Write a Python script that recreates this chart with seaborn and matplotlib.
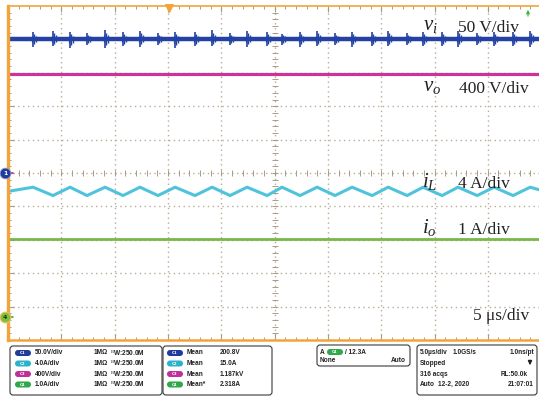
import numpy as np
import matplotlib
matplotlib.use("Agg")
import matplotlib.pyplot as plt
from matplotlib.patches import FancyBboxPatch
import seaborn as sns

# ---------------- data ----------------
# time axis: 5 us/div, 10 div screen (right part cut off)
t_end = 49.8  # us visible

# v_i (ch1, 50 V/div, ground at center)
vi_mean = 200.8
vi_t = [0.1, 49.8]
spike_t = [2.35, 4.22, 5.82, 7.41, 9.10, 10.79, 12.38, 14.07, 15.67, 17.54,
           19.14, 20.83, 22.42, 24.30, 25.70, 27.39, 28.99, 30.67, 32.27, 34.15,
           35.65, 37.43, 38.93, 40.71, 42.21, 44.00, 45.59, 47.37, 48.97]
spike_up = [10, 12, 11, 9, 13, 10, 12, 9, 11, 10, 13, 9, 12, 10, 8,
            11, 12, 9, 11, 10, 12, 9, 11, 10, 12, 9, 10, 11, 12]
spike_dn = [12, 10, 14, 9, 13, 10, 12, 9, 14, 10, 11, 9, 12, 10, 9,
            12, 11, 9, 12, 10, 11, 9, 10, 10, 12, 9, 10, 11, 12]

# v_o (ch3, 400 V/div, ground at center)
vo_mean = 1187.0
vo_t = [0.1, 49.8]

# i_L (ch2, 4 A/div, ground -4.3 div) triangle vertices
iL_t = [0.0, 2.35, 4.22, 5.82, 7.41, 9.10, 10.79, 12.38, 14.07, 15.67, 17.54,
        19.14, 20.83, 22.42, 24.30, 25.70, 27.39, 28.99, 30.67, 32.27, 34.15,
        35.65, 37.43, 38.93, 40.71, 42.21, 44.00, 45.59, 47.37, 48.97, 49.8]
iL_v = [15.0, 15.5, 14.5, 15.5, 14.5, 15.5, 14.5, 15.5, 14.5, 15.5, 14.5,
        15.5, 14.5, 15.5, 14.5, 15.5, 14.5, 15.5, 14.5, 15.5, 14.5,
        15.5, 14.5, 15.5, 14.5, 15.5, 14.5, 15.5, 14.5, 15.5, 15.2]

# i_o (ch4, 1 A/div, ground -4.3 div)
io_mean = 2.318
io_t = [0.1, 49.8]

scales = {"vi": 50.0, "vo": 400.0, "iL": 4.0, "io": 1.0}
offsets = {"vi": 0.0, "vo": 0.0, "iL": -4.3, "io": -4.3}

ch_rows = ["50.0V/div", "4.0A/div", "400V/div", "1.0A/div"]
meas_vals = ["200.8V", "15.0A", "1.187kV", "2.318A"]
meas_names = ["Mean", "Mean", "Mean", "Mean*"]
ch_names = ["C1", "C2", "C3", "C4"]

# ---------------- style ----------------
sns.set_style("white")
plt.rcParams["font.family"] = ["Liberation Serif", "DejaVu Serif"]
plt.rcParams["mathtext.fontset"] = "custom"
plt.rcParams["mathtext.rm"] = "Liberation Serif"
plt.rcParams["mathtext.it"] = "Liberation Serif:italic"

c_blue = "#2342a3"
c_cyan = "#4fc3dc"
c_mag = "#cc3399"
c_green = "#78b84a"
c_orange = "#f2a43a"
c_grid = "#b9ad98"
c_tick = "#a89c88"
ch_colors = ["#1f3b9c", "#2ab3c8", "#c0309a", "#2fa84a"]

W, H = 539, 397
fig = plt.figure(figsize=(W / 100, H / 100), dpi=100)
fig.patch.set_facecolor("white")

x0, x1, y0, y1 = 8, 539, 6, 340
ax = fig.add_axes([x0 / W, (H - y1) / H, (x1 - x0) / W, (y1 - y0) / H])
ax.set_xlim(0, t_end)
ax.set_ylim(-5, 5)

def div(v, key):
    return np.asarray(v, dtype=float) / scales[key] + offsets[key]

# graticule
ax.set_xticks(np.arange(0, 50, 5))
ax.set_yticks(np.arange(-4, 5, 1))
ax.set_xticks(np.arange(0, 50, 1), minor=True)
ax.set_yticks(np.arange(-5, 5, 0.2), minor=True)
ax.grid(True, which="major", axis="both", color=c_grid, linestyle=(0, (1, 2.5)), linewidth=1.0)
ax.tick_params(which="both", direction="in", top=True, bottom=True, left=True,
               right=False, labelbottom=False, labelleft=False, color=c_tick)
ax.tick_params(which="major", length=4, width=0.8)
ax.tick_params(which="minor", length=2.5, width=0.7)
mt = np.arange(0, 50, 1)
ax.plot(mt, np.zeros_like(mt), ls="none", marker="|", ms=4, mew=0.7, color=c_tick)
mv = np.arange(-5, 5, 0.2)
ax.plot(np.full_like(mv, 25.0), mv, ls="none", marker="_", ms=4, mew=0.7, color=c_tick)

ax.spines["right"].set_visible(False)
ax.spines["left"].set_color(c_orange)
ax.spines["left"].set_linewidth(2.4)
ax.spines["top"].set_color(c_orange)
ax.spines["top"].set_linewidth(1.2)
ax.spines["bottom"].set_color(c_orange)
ax.spines["bottom"].set_linewidth(1.8)

# traces
sns.lineplot(x=vo_t, y=div([vo_mean, vo_mean], "vo"), ax=ax, color=c_mag, lw=2.3)
sns.lineplot(x=io_t, y=div([io_mean, io_mean], "io"), ax=ax, color=c_green, lw=2.0)
sns.lineplot(x=iL_t, y=div(iL_v, "iL"), ax=ax, color=c_cyan, lw=2.2)
sns.lineplot(x=vi_t, y=div([vi_mean, vi_mean], "vi"), ax=ax, color=c_blue, lw=3.2)
st = np.array(spike_t)
su = np.array(spike_up, dtype=float)
sd = np.array(spike_dn, dtype=float)
# each switching burst: a main spike plus a decaying tail
ax.vlines(st, div(vi_mean - sd, "vi"), div(vi_mean + su, "vi"), color=c_blue, lw=1.2)
ax.vlines(st + 0.12, div(vi_mean - 0.7 * sd, "vi"), div(vi_mean + 0.7 * su, "vi"),
          color=c_blue, lw=1.0)
ax.vlines(st + 0.25, div(vi_mean - 0.45 * sd, "vi"), div(vi_mean + 0.45 * su, "vi"),
          color=c_blue, lw=1.0)
ax.vlines(st - 0.1, div(vi_mean - 0.4 * sd, "vi"), div(vi_mean + 0.4 * su, "vi"),
          color=c_blue, lw=0.9)

# ---------------- overlay in pixel coords ----------------
ov = fig.add_axes([0, 0, 1, 1], zorder=5)
ov.set_xlim(0, W)
ov.set_ylim(H, 0)
ov.axis("off")
ov.patch.set_alpha(0)

lab_kw = dict(ha="left", va="baseline", color="#222222")
ov.text(423, 30, r"$v_i$", fontsize=15, **lab_kw)
ov.text(458, 32, "50 V/div", fontsize=12.5, **lab_kw)
ov.text(423, 91, r"$v_o$", fontsize=15, **lab_kw)
ov.text(459, 93, "400 V/div", fontsize=12.5, **lab_kw)
ov.text(422, 187, r"$i_L$", fontsize=15, **lab_kw)
ov.text(458, 188, "4 A/div", fontsize=12.5, **lab_kw)
ov.text(422, 233, r"$i_o$", fontsize=15, **lab_kw)
ov.text(458, 234, "1 A/div", fontsize=12.5, **lab_kw)
ov.text(473, 320, "5 μs/div", fontsize=12.5, **lab_kw)

# screen markers
ov.scatter([5], [173], s=60, color=ch_colors[0], edgecolor="#8aa0d0", lw=0.6, zorder=6)
ov.text(5, 173.5, "1", fontsize=4.5, color="white", ha="center", va="center",
        family="DejaVu Sans", weight="bold", zorder=7)
ov.annotate("", xy=(16, 173), xytext=(10, 173),
            arrowprops=dict(arrowstyle="-|>", color=c_mag, lw=0.8, mutation_scale=4))
ov.scatter([5], [317], s=60, color="#7fbf3f", edgecolor="#f0c060", lw=0.8, zorder=6)
ov.text(5, 317.5, "4", fontsize=4.5, color="#1a3a10", ha="center", va="center",
        family="DejaVu Sans", weight="bold", zorder=7)
ov.annotate("", xy=(16, 317), xytext=(10, 317),
            arrowprops=dict(arrowstyle="-|>", color="#4aa83a", lw=0.8, mutation_scale=4))
ov.scatter([169], [8], marker="v", s=30, color=c_orange, zorder=6)
ov.annotate("", xy=(528, 7), xytext=(528, 19),
            arrowprops=dict(arrowstyle="-|>", color="#3cb83c", lw=0.8, mutation_scale=5))

# ---------------- bottom status panel ----------------
def box(x, y, w, h):
    ov.add_patch(FancyBboxPatch((x, y), w, h, boxstyle="round,pad=0,rounding_size=3",
                                facecolor="white", edgecolor="#3a3a3a", lw=0.8))

def badge(x, y, col, name):
    ov.add_patch(FancyBboxPatch((x, y - 3), 16, 6, boxstyle="round,pad=0,rounding_size=3",
                                facecolor=col, edgecolor="none"))
    ov.text(x + 8, y + 0.3, name, fontsize=2.8, color="white", ha="center", va="center",
            family="DejaVu Sans", weight="bold")

sk = dict(fontsize=4.7, family="Liberation Sans", weight="bold", color="#222222", va="center")
box(10, 346, 152, 49)
box(163, 346, 109, 49)
box(317, 345, 93, 21)
box(417, 345, 120, 50)

rows_y = [353, 363.5, 374, 384.5]
for i in range(4):
    y = rows_y[i]
    badge(15, y, ch_colors[i], ch_names[i])
    ov.text(35, y, ch_rows[i], ha="left", **sk)
    ov.text(94, y, "1MΩ", ha="left", **sk)
    ov.text(110, y, "$^{\\rm B}$W:250.0M", ha="left", **sk)
    badge(167, y, ch_colors[i], ch_names[i])
    ov.text(187, y, meas_names[i], ha="left", **sk)
    ov.text(220, y, meas_vals[i], ha="left", **sk)

ov.text(320, 352, "A", ha="left", **sk)
badge(327, 352, ch_colors[3], "C4")
ov.text(345, 352, "/ 12.3A", ha="left", **sk)
ov.text(320, 360.5, "None", ha="left", **sk)
ov.text(406, 360.5, "Auto", ha="right", **sk)

ov.text(420, 353, "5.0µs/div", ha="left", **sk)
ov.text(453, 353, "1.0GS/s", ha="left", **sk)
ov.text(534, 353, "1.0ns/pt", ha="right", **sk)
ov.text(420, 363.5, "Stopped", ha="left", **sk)
ov.annotate("", xy=(530, 368), xytext=(530, 359),
            arrowprops=dict(arrowstyle="-|>", color="#222222", lw=1.2, mutation_scale=5))
ov.text(420, 374, "316 acqs", ha="left", **sk)
ov.text(528, 374, "RL:50.0k", ha="right", **sk)
ov.text(420, 384.5, "Auto", ha="left", **sk)
ov.text(438, 384.5, "12-2, 2020", ha="left", **sk)
ov.text(534, 384.5, "21:07:01", ha="right", **sk)

fig.savefig("out.png", dpi=100)
